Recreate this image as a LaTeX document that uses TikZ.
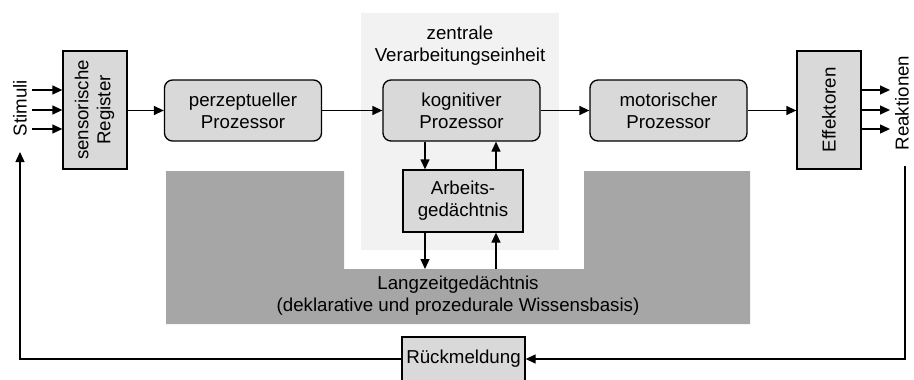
\documentclass[tikz,border=0pt]{standalone}
\usepackage{fontspec}
\setmainfont{Liberation Sans}
\usepackage{graphicx}
\definecolor{boxgray}{HTML}{D9D9D9}
\definecolor{cpugray}{HTML}{F2F2F2}
\definecolor{ltmgray}{HTML}{A6A6A6}
\usetikzlibrary{arrows.meta}

\begin{document}
\begin{tikzpicture}[x=1pt, y=-1pt,
  proc/.style={rectangle, rounded corners=8pt, draw, line width=1.3pt, fill=boxgray,
               minimum width=157pt, minimum height=61pt, align=center, inner sep=0pt},
  port/.style={rectangle, draw, line width=1.3pt, fill=boxgray,
               minimum width=64pt, minimum height=118pt, inner sep=0pt},
  mem/.style={rectangle, draw, line width=1.3pt, fill=boxgray, align=center, inner sep=0pt},
  lbl/.style={align=center, inner sep=0pt},
  arr/.style={-{Triangle[length=10pt,width=9pt]}, line width=1.3pt},
  font=\fontsize{18.7}{22}\selectfont
]
\useasboundingbox (0,0) rectangle (914,380);

% Zentrale Verarbeitungseinheit (background)
\fill[cpugray] (361,13) rectangle (559,250);
\node[lbl] (zve) at (460,46) {zentrale\\Verarbeitungseinheit};

% Langzeitgedaechtnis (U-shape)
\fill[ltmgray] (166,171) -- (344,171) -- (344,269) -- (584,269) -- (584,171)
  -- (750,171) -- (750,324) -- (166,324) -- cycle;
\coordinate (notch) at (463,269);
\node[lbl] (langzeit) at (458,296) {Langzeitgedächtnis\\(deklarative und prozedurale Wissensbasis)};

% Input side
\node[lbl, rotate=90] (stimuli) at (20,108) {Stimuli};
\node[port] (register) at (95,110)
  {\rotatebox{90}{\begin{tabular}{@{}c@{}}sensorische\\Register\end{tabular}}};

% Processors
\node[proc] (perzept) at (243,110.5) {perzeptueller\\Prozessor};
\node[proc] (kognitiv) at (461.5,110.5) {kognitiver\\Prozessor};
\node[proc] (motor) at (668.5,110.5) {motorischer\\Prozessor};
\node[mem, minimum width=120pt, minimum height=62pt] (arbeit) at (463,201) {Arbeits-\\gedächtnis};

% Output side
\node[port] (effekt) at (829,110) {\rotatebox{90}{Effektoren}};
\node[lbl, rotate=90] (reaktion) at (902,103) {Reaktionen};

% Feedback
\node[mem, minimum width=123pt, minimum height=44pt] (rueck) at (463.5,359) {Rückmeldung};
\coordinate (fbin) at (20,152);
\coordinate (fbout) at (905,166);

% Arrows
\foreach \yy [count=\i] in {90,110,129} {
  \coordinate (s\i) at (32,\yy);
  \coordinate (r\i) at (890,\yy);
  \draw[arr] (s\i) -- (register.west |- s\i);
  \draw[arr] (effekt.east |- r\i) -- (r\i);
}
\draw[arr] (register.east |- perzept.west) -- (perzept.west);
\draw[arr] (perzept.east) -- (kognitiv.west);
\draw[arr] (kognitiv.east) -- (motor.west);
\draw[arr] (motor.east) -- (effekt.west |- motor.east);

\draw[arr] (425,0 |- kognitiv.south) -- (425,0 |- arbeit.north);
\draw[arr] (496,0 |- arbeit.north) -- (496,0 |- kognitiv.south);
\draw[arr] (425,0 |- arbeit.south) -- (425,0 |- notch);
\draw[arr] (496,0 |- notch) -- (496,0 |- arbeit.south);

\draw[arr] (fbout) |- (rueck.east);
\draw[arr] (rueck.west) -| (fbin);
\end{tikzpicture}
\end{document}
